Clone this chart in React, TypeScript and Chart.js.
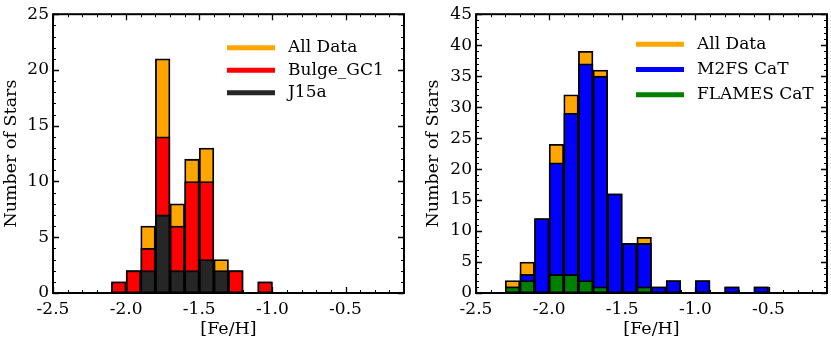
import React, { useEffect, useRef } from "react";
import { Chart, registerables } from "chart.js";

Chart.register(...registerables);

// ---- Data ----
// bin centres of [Fe/H] histograms (bin width 0.1)
const LEFT_BINS = [-2.05, -1.95, -1.85, -1.75, -1.65, -1.55, -1.45, -1.35, -1.25, -1.15, -1.05];
const LEFT_ALL = [1, 2, 6, 21, 8, 12, 13, 3, 2, 0, 1];
const LEFT_BULGE = [1, 2, 4, 14, 6, 10, 10, 1, 2, 0, 1];
const LEFT_J15A = [0, 0, 2, 7, 2, 2, 3, 2, 0, 0, 0];

const RIGHT_BINS = [-2.25, -2.15, -2.05, -1.95, -1.85, -1.75, -1.65, -1.55, -1.45, -1.35, -1.25, -1.15, -1.05, -0.95, -0.85, -0.75, -0.65, -0.55];
const RIGHT_ALL = [2, 5, 12, 24, 32, 39, 36, 16, 8, 9, 1, 2, 0, 2, 0, 1, 0, 1];
const RIGHT_M2FS = [1, 3, 12, 21, 29, 37, 35, 16, 8, 8, 1, 2, 0, 2, 0, 1, 0, 1];
const RIGHT_FLAMES = [1, 2, 0, 3, 3, 2, 1, 0, 0, 1, 0, 0, 0, 0, 0, 0, 0, 0];

const X_TICKS = [-2.5, -2.0, -1.5, -1.0, -0.5];
const LEFT_Y_TICKS = [0, 5, 10, 15, 20, 25];
const RIGHT_Y_TICKS = [0, 5, 10, 15, 20, 25, 30, 35, 40, 45];

const X_TITLE = "[Fe/H]";
const Y_TITLE = "Number of Stars";

const FONT = "'DejaVu Serif', 'Liberation Serif', 'Noto Serif', serif";

type Series = { label: string; values: number[]; color: string };

function toPoints(bins: number[], vals: number[]) {
  return bins.map((b, i) => ({ x: b, y: vals[i] > 0 ? vals[i] : null }));
}

const frameTicksPlugin = {
  id: "frameTicks",
  afterDatasetsDraw(chart: any, _args: any, opts: any) {
    const { ctx, chartArea } = chart;
    const { left, right, top, bottom } = chartArea;
    const xs = chart.scales.x;
    const ys = chart.scales.y;
    ctx.save();
    ctx.strokeStyle = "#000";
    const xmin = xs.min, xmax = xs.max;
    for (let k = Math.ceil(xmin * 10 - 1e-6); k <= Math.floor(xmax * 10 + 1e-6); k++) {
      const v = k / 10;
      const px = Math.round(xs.getPixelForValue(v)) + 0.5;
      const major = Math.abs(k % 5) === 0;
      const len = major ? 6 : 3;
      ctx.lineWidth = major ? 1.3 : 1;
      ctx.beginPath();
      ctx.moveTo(px, bottom);
      ctx.lineTo(px, bottom - len);
      ctx.moveTo(px, top);
      ctx.lineTo(px, top + len);
      ctx.stroke();
    }
    const ymax = ys.max;
    for (let v = 0; v <= ymax; v += 1) {
      const py = Math.round(ys.getPixelForValue(v)) + 0.5;
      const major = v % 5 === 0;
      const len = major ? 6 : 3;
      ctx.lineWidth = major ? 1.3 : 1;
      ctx.beginPath();
      ctx.moveTo(left, py);
      ctx.lineTo(left + len, py);
      ctx.moveTo(right, py);
      ctx.lineTo(right - len, py);
      ctx.stroke();
    }
    ctx.lineWidth = 2;
    ctx.strokeRect(left, top, right - left, bottom - top);

    // legend
    const lg = opts.legend;
    if (lg) {
      ctx.font = `17px ${FONT}`;
      ctx.textBaseline = "middle";
      ctx.textAlign = "left";
      lg.items.forEach((it: Series, i: number) => {
        const y = top + lg.y0 + i * lg.dy;
        ctx.strokeStyle = it.color;
        ctx.lineWidth = 5;
        ctx.beginPath();
        ctx.moveTo(left + lg.x0, y);
        ctx.lineTo(left + lg.x1, y);
        ctx.stroke();
        ctx.fillStyle = "#000";
        ctx.fillText(it.label, left + lg.xt, y);
      });
    }
    ctx.restore();
  },
};

function HistChart(props: {
  bins: number[];
  series: Series[];
  yMax: number;
  yTicks: number[];
  yWidth: number;
  yTitlePad: number;
  padRight: number;
  legend: any;
  style: React.CSSProperties;
}) {
  const ref = useRef<HTMLCanvasElement>(null);
  useEffect(() => {
    if (!ref.current) return;
    const n = props.series.length;
    const chart = new Chart(ref.current, {
      type: "bar",
      data: {
        datasets: props.series.map((s, i) => ({
          label: s.label,
          data: toPoints(props.bins, s.values) as any,
          backgroundColor: s.color,
          borderColor: "#000",
          borderWidth: 1.8,
          borderSkipped: false,
          grouped: false,
          barPercentage: 1,
          categoryPercentage: 1,
          order: n - i,
        })),
      },
      options: {
        animation: false,
        responsive: false,
        maintainAspectRatio: false,
        layout: { padding: { top: 10, right: props.padRight, left: 0, bottom: 0 } },
        plugins: {
          legend: { display: false },
          tooltip: { enabled: false },
          frameTicks: { legend: props.legend },
        } as any,
        scales: {
          x: {
            type: "linear",
            min: -2.5,
            max: -0.1,
            offset: false,
            grid: { display: false, drawTicks: false },
            border: { display: false },
            afterBuildTicks: (s: any) => {
              s.ticks = X_TICKS.map((v) => ({ value: v }));
            },
            afterFit: (s: any) => {
              s.height = 48;
            },
            ticks: {
              padding: 6,
              color: "#000",
              font: { family: FONT, size: 17 },
              maxRotation: 0,
              autoSkip: false,
              callback: (v: any) => Number(v).toFixed(1),
            },
            title: {
              display: true,
              text: X_TITLE,
              color: "#000",
              font: { family: FONT, size: 17.5 },
              padding: { top: 4, bottom: 1 },
            },
          },
          y: {
            type: "linear",
            min: 0,
            max: props.yMax,
            grid: { display: false, drawTicks: false },
            border: { display: false },
            afterBuildTicks: (s: any) => {
              s.ticks = props.yTicks.map((v) => ({ value: v }));
            },
            afterFit: (s: any) => {
              s.width = props.yWidth;
            },
            ticks: {
              padding: 4,
              color: "#000",
              font: { family: FONT, size: 17 },
              autoSkip: false,
            },
            title: {
              display: true,
              text: Y_TITLE,
              color: "#000",
              font: { family: FONT, size: 17.5 },
              padding: { top: props.yTitlePad, bottom: 0 },
            },
          },
        },
      },
      plugins: [frameTicksPlugin],
    });
    return () => chart.destroy();
  }, []);
  return <canvas ref={ref} width={props.style.width as number} height={341} style={props.style} />;
}

export default function App() {
  return (
    <div style={{ position: "fixed", left: 0, top: 0, width: 831, height: 341, background: "#fff" }}>
      <HistChart
        bins={LEFT_BINS}
        series={[
          { label: "All Data", values: LEFT_ALL, color: "#FFA500" },
          { label: "Bulge_GC1", values: LEFT_BULGE, color: "#FF0000" },
          { label: "J15a", values: LEFT_J15A, color: "#262626" },
        ]}
        yMax={25}
        yTicks={LEFT_Y_TICKS}
        yWidth={53}
        yTitlePad={1}
        padRight={11}
        legend={{
          items: [
            { label: "All Data", color: "#FFA500" },
            { label: "Bulge_GC1", color: "#FF0000" },
            { label: "J15a", color: "#262626" },
          ],
          x0: 174,
          x1: 222,
          xt: 235,
          y0: 33.5,
          dy: 22.5,
        }}
        style={{ position: "absolute", left: 0, top: 0, width: 415, height: 341 }}
      />
      <HistChart
        bins={RIGHT_BINS}
        series={[
          { label: "All Data", values: RIGHT_ALL, color: "#FFA500" },
          { label: "M2FS CaT", values: RIGHT_M2FS, color: "#0000FF" },
          { label: "FLAMES CaT", values: RIGHT_FLAMES, color: "#008000" },
        ]}
        yMax={45}
        yTicks={RIGHT_Y_TICKS}
        yWidth={61}
        yTitlePad={7.5}
        padRight={4}
        legend={{
          items: [
            { label: "All Data", color: "#FFA500" },
            { label: "M2FS CaT", color: "#0000FF" },
            { label: "FLAMES CaT", color: "#008000" },
          ],
          x0: 160,
          x1: 208,
          xt: 221,
          y0: 30,
          dy: 25.3,
        }}
        style={{ position: "absolute", left: 415, top: 0, width: 416, height: 341 }}
      />
    </div>
  );
}
